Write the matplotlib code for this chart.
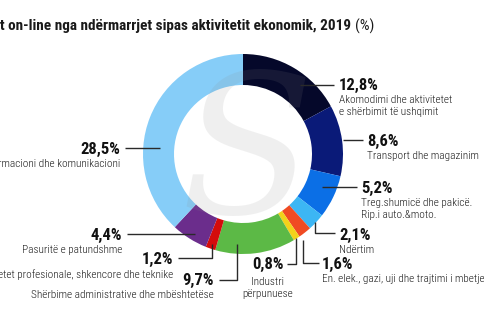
import matplotlib
matplotlib.use("Agg")
import matplotlib.pyplot as plt

plt.rcParams['font.family'] = ['Roboto Condensed', 'Barlow Semi Condensed', 'DejaVu Sans']

# Shares by economic activity (%), drawn clockwise from 12 o'clock
values = [12.8, 8.6, 5.2, 2.1, 1.6, 0.8, 9.7, 1.2, 4.4, 28.5]
value_labels = ["12,8%", "8,6%", "5,2%", "2,1%", "1,6%", "0,8%", "9,7%", "1,2%", "4,4%", "28,5%"]
categories = [
    "Akomodimi dhe aktivitetet\ne shërbimit të ushqimit",
    "Transport dhe magazinim",
    "Treg.shumicë dhe pakicë.\nRip.i auto.&moto.",
    "Ndërtim",
    "En. elek., gazi, uji dhe trajtimi i mbetje",
    "Industri\npërpunuese",
    "Shërbime administrative dhe mbështetëse",
    "etet profesionale, shkencore dhe teknike",
    "Pasuritë e patundshme",
    "rmacioni dhe komunikacioni",
]
colors = ["#05082a", "#0a1a78", "#0b6fe6", "#3cb6f4", "#f04b23", "#f2d21a",
          "#5cb946", "#d40c0c", "#6b2d8c", "#86cdf8"]

W, H = 485, 325
fig = plt.figure(figsize=(W / 100, H / 100), dpi=100)
ax = fig.add_axes([0, 0, 1, 1])

def Y(y):
    return H - y

cx, cy, r_out, r_in = 243, 154, 100, 69
ax.pie(values, colors=colors, startangle=90, counterclock=False,
       center=(cx, Y(cy)), radius=r_out,
       wedgeprops=dict(width=r_out - r_in, linewidth=0))
ax.set_xlim(0, W)
ax.set_ylim(0, H)
ax.set_aspect('equal')
ax.axis('off')

# faint logo mark over the ring
ax.text(cx + 4, Y(cy + 6), "S", fontsize=140, family='DejaVu Serif', style='italic',
        color='#8a8a8a', alpha=0.13, ha='center', va='center', zorder=5)

# title: bold text followed by the unit in regular weight
t1 = fig.text(0, 1 - 26 / H, "t on-line nga ndërmarrjet sipas aktivitetit ekonomik, 2019",
              fontsize=11, fontweight='bold', color='#1a1a1a', va='center', ha='left')
fig.canvas.draw()
bb = t1.get_window_extent(fig.canvas.get_renderer())
fig.text((bb.x1 + 4) / W, 1 - 26 / H, "(%)", fontsize=11, color='#1a1a1a',
         va='center', ha='left')

lc = '#2a2a2a'
def line(pts):
    xs = [p[0] for p in pts]
    ys = [Y(p[1]) for p in pts]
    ax.plot(xs, ys, color=lc, lw=1.0, solid_capstyle='butt', zorder=6)

def pct(x, y, s, ha='left'):
    ax.text(x, Y(y), s, fontsize=12, fontweight='bold', color='#111111',
            ha=ha, va='center', zorder=7)

def lab(x, y, s, ha='left'):
    ax.text(x, Y(y + 2), s, fontsize=8.1, fontweight='light', color='#1e1e1e',
            ha=ha, va='top', linespacing=1.2, zorder=7)

# right side
pct(339, 85, value_labels[0]); lab(339, 93, categories[0]); line([(300, 85), (334, 85)])
pct(367, 141, value_labels[1]); lab(367, 149, categories[1]); line([(343, 140), (363, 140)])
pct(361, 188, value_labels[2]); lab(361, 196, categories[2]); line([(322, 187), (357, 187)])
pct(339, 235, value_labels[3]); lab(339, 243, categories[3]); line([(315, 222), (315, 233), (335, 233)])
pct(322, 264, value_labels[4]); lab(322, 272, categories[4]); line([(303, 240), (303, 263), (319, 263)])
# bottom
pct(284, 264, value_labels[5], ha='right'); lab(268, 275, categories[5], ha='center')
line([(287, 264), (296, 264), (296, 238)])
# left side
pct(214, 280, value_labels[6], ha='right'); lab(214, 288, categories[6], ha='right')
line([(219, 280), (237, 280), (237, 244)])
pct(173, 259, value_labels[7], ha='right'); lab(173, 267, categories[7], ha='right')
line([(178, 258), (212, 258), (212, 244)])
pct(122, 235, value_labels[8], ha='right'); lab(122, 243, categories[8], ha='right')
line([(127, 234), (195, 234)])
pct(120, 149, value_labels[9], ha='right'); lab(120, 157, categories[9], ha='right')
line([(125, 148), (160, 148)])

fig.savefig("out.png", dpi=100, facecolor='white')
